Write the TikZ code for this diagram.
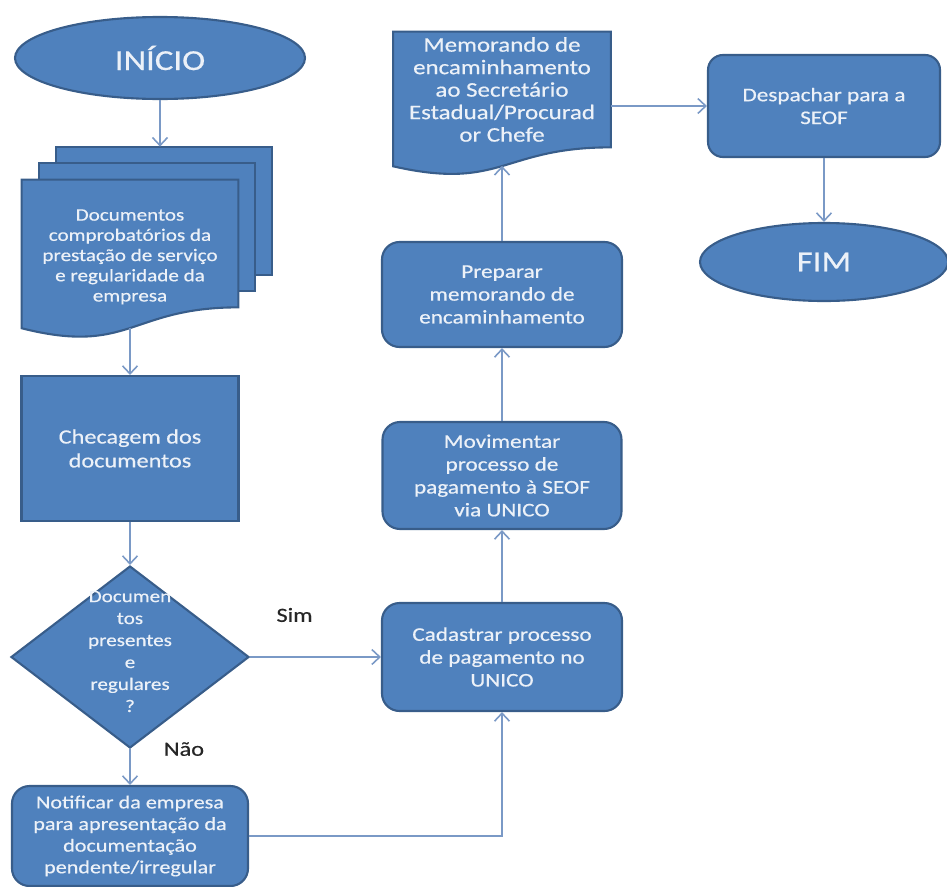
\documentclass[tikz,border=0pt]{standalone}
\usepackage{fontspec}
\setmainfont{Carlito}[FakeStretch=1.2, FakeBold=0.5]
\usetikzlibrary{shapes.geometric, arrows.meta, positioning, calc, backgrounds}
\definecolor{azul}{RGB}{79,129,189}
\definecolor{azulborda}{RGB}{56,93,138}
\definecolor{corseta}{RGB}{122,153,198}
\definecolor{textoclaro}{RGB}{236,241,248}
\definecolor{corrotulo}{RGB}{38,38,38}

\begin{document}
\begin{tikzpicture}[node distance=2cm,
    base/.style={fill=azul, draw=azulborda, line width=1.2pt, text=textoclaro, align=center, inner sep=2pt, font=\fontsize{11}{13}\selectfont},
    terminal/.style={base, ellipse, inner sep=0pt, font=\fontsize{16.5}{19}\selectfont},
    processo/.style={base, rectangle},
    arred/.style={base, rectangle, rounded corners=0.35cm},
    losango/.style={base, diamond, inner sep=0pt},
    docbody/.style={rectangle, text=textoclaro, align=center, inner sep=0pt, font=\fontsize{11}{13}\selectfont},
    folha/.style={fill=azul, draw=azulborda, line width=1.2pt},
    seta/.style={draw=corseta, line width=0.9pt, -{Straight Barb[length=1.6mm,width=3mm]}},
    rotulo/.style={text=corrotulo, font=\fontsize{11.5}{13}\selectfont}]
    \useasboundingbox (0,0) rectangle (18.94,-17.72);

    % coluna da esquerda
    \node (inicio) [terminal, minimum width=5.8cm, minimum height=1.64cm] at (3.2,-1.16) {INÍCIO};
    \node (docs) [docbody, minimum width=4.32cm, minimum height=2.54cm, font=\fontsize{10}{11.5}\selectfont] at (2.6,-4.87)
        {\raisebox{-0.27cm}[\height][\depth]{\begin{tabular}{@{}c@{}}Documentos\\comprobatórios da\\prestação de serviço\\e regularidade da\\empresa\end{tabular}}};
    \node (checagem) [processo, below of=docs, node distance=4.1cm, minimum width=4.34cm, minimum height=2.9cm, font=\fontsize{11.5}{13.6}\selectfont] {Checagem dos\\documentos};
    \node (decisao) [losango, below of=checagem, node distance=4.17cm, minimum width=4.76cm, minimum height=3.64cm, font=\fontsize{10}{12.5}\selectfont]
        {\smash{\begin{tabular}{@{}c@{}}Documen\\tos\\presentes\\e\\regulares\\?\end{tabular}}};
    \node (notificar) [arred, below of=decisao, node distance=3.58cm, minimum width=4.72cm, minimum height=2cm, font=\fontsize{10.5}{12.3}\selectfont]
        {Notificar da empresa\\para apresentação da\\documentação\\pendente/irregular};

    % coluna do meio
    \node (cadastrar) [arred, right of=decisao, node distance=7.44cm, minimum width=4.8cm, minimum height=2.16cm] {Cadastrar processo\\de pagamento no\\UNICO};
    \node (movimentar) [arred, above of=cadastrar, node distance=3.63cm, minimum width=4.78cm, minimum height=2.14cm] {Movimentar\\processo de\\pagamento à SEOF\\via UNICO};
    \node (preparar) [arred, above of=movimentar, node distance=3.62cm, minimum width=4.8cm, minimum height=2.1cm] {Preparar\\memorando de\\encaminhamento};
    \node (memo) [docbody, above of=preparar, node distance=4.1cm, minimum width=4.34cm, minimum height=2.3cm, font=\fontsize{11.8}{12.8}\selectfont]
        {Memorando de\\encaminhamento\\ao Secretário\\Estadual/Procurad\\or Chefe};

    % coluna da direita
    \node (despachar) [arred, rounded corners=0.3cm, minimum width=4.64cm, minimum height=2.04cm] at (16.48,-2.12) {Despachar para a\\SEOF};
    \node (fim) [terminal, below of=despachar, node distance=3.12cm, minimum width=4.96cm, minimum height=1.56cm] {FIM};

    \coordinate (pilha) at ($(docs.north)+(0.6,0.66)$);
    \coordinate (docsbase) at ($(docs.south)+(0,-0.41)$);
    \coordinate (memobase) at ($(memo.south)+(0,-0.37)$);

    \begin{pgfonlayer}{background}
        \foreach \dx/\dy in {0.68/0.65, 0.34/0.33}
            \path[folha] ($(docs.north west)+(\dx,\dy)$) rectangle ($(docs.south east)+(\dx,\dy)$);
        \foreach \d/\c/\e in {docs/0.965/0.418, memo/0.874/0.379}
            \path[folha] (\d.north west) -- (\d.north east) -- (\d.south east)
                .. controls (\d.south) and ($(\d.south)+(0,-\c)$) .. ($(\d.south west)+(0,-\e)$) -- cycle;
    \end{pgfonlayer}

    \draw[seta] (inicio) -- (pilha);
    \draw[seta] (docsbase) -- (checagem);
    \draw[seta] (checagem) -- (decisao);
    \draw[seta] (decisao) -- node[rotulo, pos=0.34, yshift=0.84cm] {Sim} (cadastrar);
    \draw[seta] (decisao) -- node[rotulo, pos=0, xshift=1.08cm] {Não} (notificar);
    \draw[seta] (notificar) -| (cadastrar);
    \draw[seta] (cadastrar) -- (movimentar);
    \draw[seta] (movimentar) -- (preparar);
    \draw[seta] (preparar) -- (memobase);
    \draw[seta] (memo.east |- despachar) -- (despachar);
    \draw[seta] (despachar) -- (fim);
\end{tikzpicture}
\end{document}
